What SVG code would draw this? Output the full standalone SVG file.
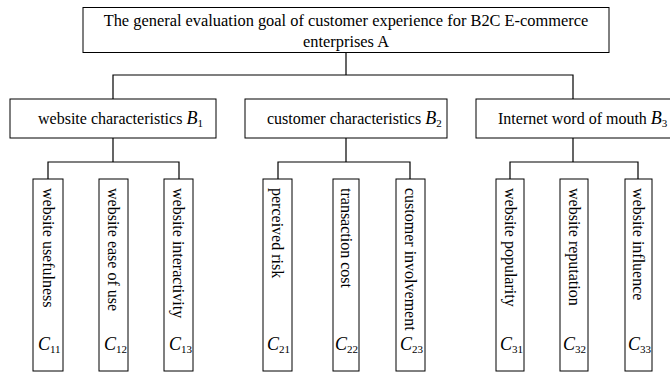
<svg xmlns="http://www.w3.org/2000/svg" width="670" height="374" viewBox="0 0 670 374">
<style>
  .box { fill: #fff; stroke: #000; stroke-width: 1; }
  .conn { fill: none; stroke: #000; stroke-width: 1.2; }
  .t { font-family: "Liberation Serif", "Times New Roman", serif; font-size: 16px; fill: #000; }
  .top { font-size: 16.4px; }
  .v { font-family: "Liberation Serif", "Times New Roman", serif; font-size: 16px; fill: #000; dominant-baseline: central; }
  .c { font-family: "Liberation Serif", "Times New Roman", serif; font-size: 18px; font-style: italic; fill: #000; }
  .sub { font-style: normal; font-size: 11px; }
</style>
<rect width="670" height="374" fill="#fff"/>
<g id="connectors">
  <path class="conn" d="M346,53 V75 M113,99 V75 H573 V99"/>
  <path class="conn" d="M113,138 V162 M48,179 V162 H179 V179"/>
  <path class="conn" d="M346,138 V162 M278,179 V162 H410 V179"/>
  <path class="conn" d="M573,138 V162 M510,179 V162 H638 V179"/>
</g>
<g id="A">
  <rect class="box" x="83" y="7.5" width="526" height="45"/>
  <text class="t top" x="346" y="26" text-anchor="middle">The general evaluation goal of customer experience for B2C E-commerce</text>
  <text class="t top" x="346" y="47" text-anchor="middle">enterprises A</text>
</g>
<g id="B1">
  <rect class="box" x="10" y="99" width="206" height="39"/>
  <text class="t" x="38" y="124">website characteristics <tspan font-style="italic" font-size="18">B</tspan><tspan class="sub" dy="3">1</tspan></text>
</g>
<g id="B2">
  <rect class="box" x="245" y="99" width="202" height="39"/>
  <text class="t" x="267" y="124">customer characteristics <tspan font-style="italic" font-size="18">B</tspan><tspan class="sub" dy="3">2</tspan></text>
</g>
<g id="B3">
  <rect class="box" x="476" y="99" width="196" height="39"/>
  <text class="t" x="498" y="124">Internet word of mouth <tspan font-style="italic" font-size="18">B</tspan><tspan class="sub" dy="3">3</tspan></text>
</g>
<g id="C11">
  <rect class="box" x="33" y="179" width="30" height="192"/>
  <text class="v" transform="translate(48,188) rotate(90)">website usefulness</text>
  <text class="c" x="38" y="350">C<tspan class="sub" dy="3">11</tspan></text>
</g>
<g id="C12">
  <rect class="box" x="99" y="179" width="29" height="192"/>
  <text class="v" transform="translate(113.5,188) rotate(90)">website ease of use</text>
  <text class="c" x="104" y="350">C<tspan class="sub" dy="3">12</tspan></text>
</g>
<g id="C13">
  <rect class="box" x="164" y="179" width="29" height="192"/>
  <text class="v" transform="translate(178.5,188) rotate(90)">website interactivity</text>
  <text class="c" x="169" y="350">C<tspan class="sub" dy="3">13</tspan></text>
</g>
<g id="C21">
  <rect class="box" x="263" y="179" width="29" height="192"/>
  <text class="v" transform="translate(277.5,188) rotate(90)">perceived risk</text>
  <text class="c" x="267" y="350">C<tspan class="sub" dy="3">21</tspan></text>
</g>
<g id="C22">
  <rect class="box" x="333" y="179" width="26" height="192"/>
  <text class="v" transform="translate(346,188) rotate(90)">transaction cost</text>
  <text class="c" x="335" y="350">C<tspan class="sub" dy="3">22</tspan></text>
</g>
<g id="C23">
  <rect class="box" x="396" y="179" width="29" height="192"/>
  <text class="v" transform="translate(410.5,188) rotate(90)">customer involvement</text>
  <text class="c" x="400" y="350">C<tspan class="sub" dy="3">23</tspan></text>
</g>
<g id="C31">
  <rect class="box" x="496" y="179" width="28" height="192"/>
  <text class="v" transform="translate(510,188) rotate(90)">website popularity</text>
  <text class="c" x="500" y="350">C<tspan class="sub" dy="3">31</tspan></text>
</g>
<g id="C32">
  <rect class="box" x="560" y="179" width="28" height="192"/>
  <text class="v" transform="translate(574,188) rotate(90)">website reputation</text>
  <text class="c" x="563" y="350">C<tspan class="sub" dy="3">32</tspan></text>
</g>
<g id="C33">
  <rect class="box" x="625" y="179" width="27" height="192"/>
  <text class="v" transform="translate(638.5,188) rotate(90)">website influence</text>
  <text class="c" x="628" y="350">C<tspan class="sub" dy="3">33</tspan></text>
</g>
</svg>
